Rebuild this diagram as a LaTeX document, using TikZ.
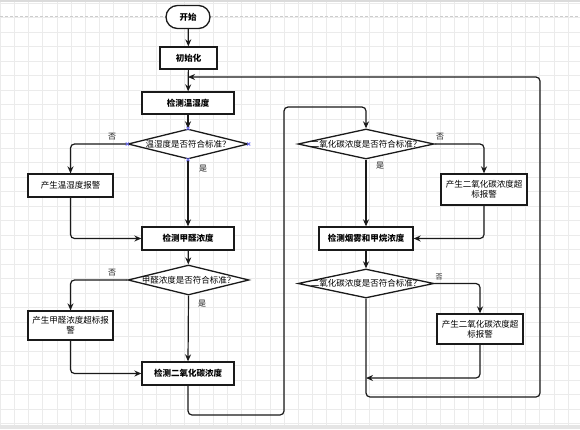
\documentclass[tikz,border=0pt]{standalone}
\usepackage{fontspec}
\newfontfamily\cjk{Noto Sans CJK SC}
\usetikzlibrary{shapes.geometric,arrows.meta}
\definecolor{ln}{HTML}{1A1A1A}
\definecolor{gridc}{HTML}{EBEBEB}
\definecolor{selc}{HTML}{6E6EFF}
\tikzset{
  base/.style={draw=ln, line width=1.3pt, fill=white, inner sep=0pt, align=center, font=\cjk\fontsize{8.5}{10}\selectfont},
  procbox/.style={base, rectangle, font=\cjk\bfseries\fontsize{8.5}{10}\selectfont},
  alarmbox/.style={base, rectangle},
  termbox/.style={base, rectangle, rounded corners=11.5pt, font=\cjk\bfseries\fontsize{8.5}{10}\selectfont},
  decbox/.style={base, diamond},
  flow/.style={draw=ln, line width=1.2pt, rounded corners=4pt, -{Stealth[length=7pt,width=6pt]}},
  flowplain/.style={draw=ln, line width=1.2pt, rounded corners=4pt},
  lbl/.style={inner sep=0pt, font=\cjk\fontsize{8}{9}\selectfont, text=ln},
  selmark/.style={draw=selc, line width=0.6pt}
}
\newcommand{\zw}[1]{\makebox[0pt]{#1}}
\begin{document}
\begin{tikzpicture}[x=1pt,y=-1pt]
\useasboundingbox (0,0) rectangle (580,429);
% background
\fill[white] (0,0) rectangle (580,429);
\foreach \i in {0,...,41} {\draw[gridc, line width=0.5pt] (14.2*\i,0) -- (14.2*\i,429);}
\foreach \j in {0,...,29} {\draw[gridc, line width=0.5pt] (0,3+14.5*\j) -- (580,3+14.5*\j);}
\fill[black!14] (0,0) rectangle (580,2);
\fill[black!10] (0,425) rectangle (580,429);
\draw[black!20, line width=1pt, dash pattern=on 3pt off 2pt] (0,16) -- (580,16);

% nodes
\node[termbox, minimum width=44pt, minimum height=23pt] (start) at (188,17) {开始};
\node[procbox, minimum width=57pt, minimum height=22pt] (init) at (188.5,58) {初始化};
\node[procbox, minimum width=92pt, minimum height=22pt] (temp) at (188,103) {检测温湿度};
\node[decbox, minimum width=120pt, minimum height=30pt] (d1) at (188,144) {\zw{温湿度是否符合标准？}};
\node[alarmbox, minimum width=85pt, minimum height=23pt] (a1) at (70.5,185.5) {产生温湿度报警};
\node[procbox, minimum width=92pt, minimum height=23pt] (hcho) at (188,238.5) {检测甲醛浓度};
\node[decbox, minimum width=121pt, minimum height=30pt] (d2) at (188.5,280) {\zw{甲醛浓度是否符合标准？}};
\node[alarmbox, minimum width=85pt, minimum height=29pt] (a2) at (70.5,325.5) {产生甲醛浓度超标报\\警};
\node[procbox, minimum width=92pt, minimum height=23pt] (co2) at (188,373.5) {检测二氧化碳浓度};
\node[decbox, minimum width=136pt, minimum height=30pt] (d3) at (366,144) {\zw{二氧化碳浓度是否符合标准？}};
\node[alarmbox, minimum width=86pt, minimum height=31pt] (a3) at (484,189.5) {产生二氧化碳浓度超\\标报警};
\node[procbox, minimum width=94pt, minimum height=23pt] (smoke) at (366,238.5) {检测烟雾和甲烷浓度};
\node[decbox, minimum width=136pt, minimum height=29pt] (d4) at (366,283.5) {\zw{二氧化碳浓度是否符合标准？}};
\node[alarmbox, minimum width=86pt, minimum height=30pt] (a4) at (480,329) {产生二氧化碳浓度超\\标报警};

% helper coordinates
\coordinate (c1) at (188,415);
\coordinate (c2) at (284,415);
\coordinate (c3) at (284,107);
\coordinate (c4) at (366,107);
\coordinate (m4) at (366,378);
\coordinate (r1) at (366,397);
\coordinate (r2) at (540,397);
\coordinate (r3) at (540,77);
\coordinate (r4) at (188,77);

% connectors
\draw[flow] (start) -- (init);
\draw[flow] (init) -- (temp);
\draw[flow] (temp) -- (d1);
\draw[flow] (d1.west) -| (a1.north);
\draw[flow] (d1.south) -- (hcho.north);
\draw[flow] (a1.south) |- (hcho.west);
\draw[flow] (hcho) -- (d2);
\draw[flow] (d2.west) -| (a2.north);
\draw[flow] (d2.south) -- (co2.north);
\draw[flow] (a2.south) |- (co2.west);
\draw[flow] (co2.south) -- (c1) -- (c2) -- (c3) -- (c4) -- (d3.north);
\draw[flow] (d3.east) -| (a3.north);
\draw[flow] (d3.south) -- (smoke.north);
\draw[flow] (a3.south) |- (smoke.east);
\draw[flow] (smoke) -- (d4);
\draw[flow] (d4.east) -| (a4.north);
\draw[flow] (a4.south) |- (m4);
\draw[flow] (d4.south) -- (r1) -- (r2) -- (r3) -- (r4);

% labels
\node[lbl] (n1) at (112,137) {否};
\node[lbl] (y1) at (203,169) {是};
\node[lbl] (n2) at (112,273) {否};
\node[lbl] (y2) at (202,304) {是};
\node[lbl] (n3) at (440,137) {否};
\node[lbl] (y3) at (380,166) {是};
\node[lbl, font=\cjk\fontsize{7}{8}\selectfont] (n4) at (439,277) {否};

% selection markers on first decision
\foreach \p in {d1.north,d1.south,d1.west,d1.east} {
  \draw[selmark] ([shift={(-1.6pt,-1.6pt)}]\p) -- ([shift={(1.6pt,1.6pt)}]\p);
  \draw[selmark] ([shift={(-1.6pt,1.6pt)}]\p) -- ([shift={(1.6pt,-1.6pt)}]\p);
}
\end{tikzpicture}
\end{document}
